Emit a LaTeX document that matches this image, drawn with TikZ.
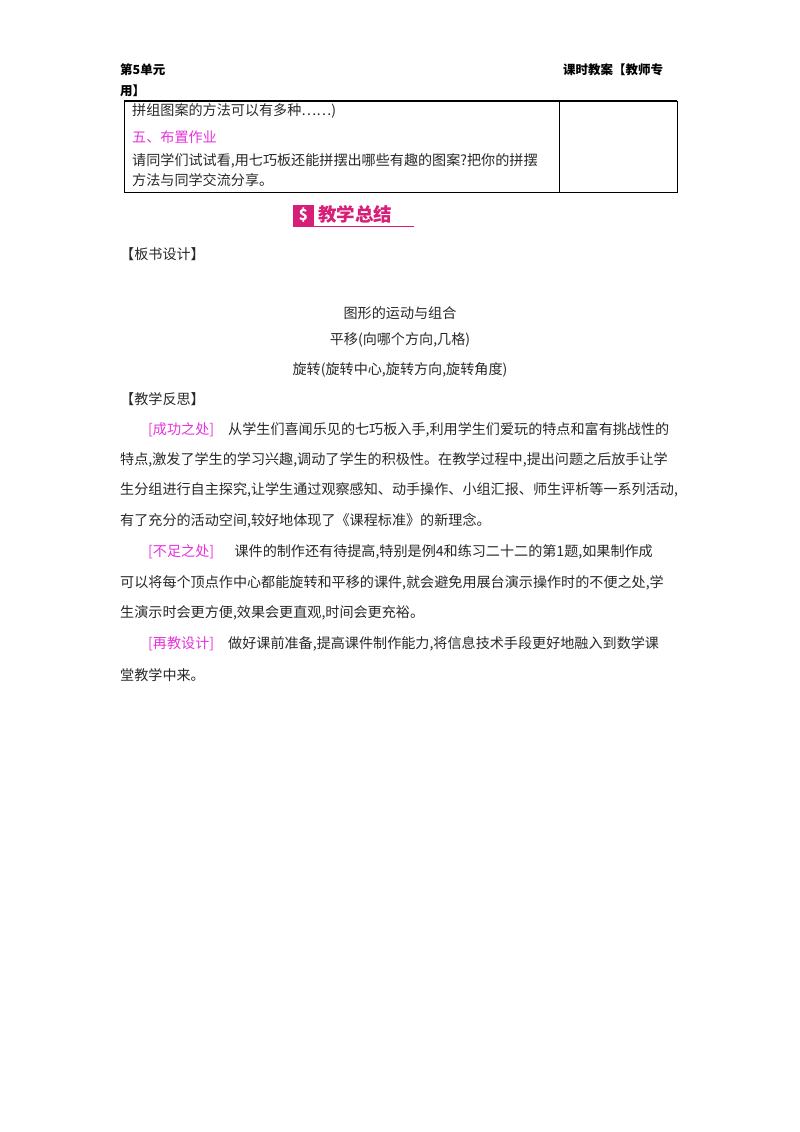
\documentclass[tikz,border=0pt]{standalone}
\usepackage{fontspec}
\setmainfont{Liberation Serif}
\newfontfamily\cjk{Noto Sans CJK SC}
\definecolor{mag}{RGB}{230,50,220}
\definecolor{txt}{RGB}{40,40,40}
\definecolor{ban}{RGB}{215,30,120}
\begin{document}
\begin{tikzpicture}[x=1pt,y=-1pt,
 t/.style={anchor=west,inner sep=0,font=\cjk\fontsize{14.1}{14}\selectfont,text=txt},
 c/.style={anchor=center,inner sep=0,font=\cjk\fontsize{14.1}{14}\selectfont,text=txt},
 h/.style={anchor=west,inner sep=0,font=\cjk\bfseries\fontsize{12.5}{12}\selectfont,text=black}]
\useasboundingbox (0,0) rectangle (800,1132);
\node[h] (h1) at (120,70) {第5单元};
\node[h] (h2) at (563,70) {课时教案【教师专};
\node[h] (h3) at (120,91) {用】};
\draw[line width=1.6pt] (124,101) -- (677,101);
\draw[line width=0.8pt] (124,101) rectangle (677,192) (559,101) -- (559,192);
\node[t] (a1) at (132,111) {拼组图案的方法可以有多种……)};
\node[t,text=mag] (a2) at (132,137) {五、布置作业};
\node[t] (a3) at (132,161) {请同学们试试看,用七巧板还能拼摆出哪些有趣的图案?把你的拼摆};
\node[t] (a4) at (132,180) {方法与同学交流分享。};
\fill[ban] (293,205) rectangle (314,226);
\node[text=white,font=\cjk\bfseries\fontsize{15}{15}\selectfont,inner sep=0] (ic) at (303.5,215.5) {\$};
\node[anchor=west,inner sep=0,text=ban,font=\cjk\bfseries\fontsize{18.5}{18}\selectfont] (bt) at (318,214) {教学总结};
\draw[ban,line width=1pt] (293,226) -- (414,226);
\node[t] (b1) at (120,254) {【板书设计】};
\node[c] (b2) at (400,313) {图形的运动与组合};
\node[c] (b3) at (400,340) {平移(向哪个方向,几格)};
\node[c] (b4) at (400,370) {旋转(旋转中心,旋转方向,旋转角度)};
\node[t] (b5) at (120,399) {【教学反思】};
\node[t] (p1) at (148,430) {\textcolor{mag}{[成功之处]}\quad 从学生们喜闻乐见的七巧板入手,利用学生们爱玩的特点和富有挑战性的};
\node[t] (p2) at (120,460) {特点,激发了学生的学习兴趣,调动了学生的积极性。在教学过程中,提出问题之后放手让学};
\node[t] (p3) at (120,490) {生分组进行自主探究,让学生通过观察感知、动手操作、小组汇报、师生评析等一系列活动,};
\node[t] (p4) at (120,521) {有了充分的活动空间,较好地体现了《课程标准》的新理念。};
\node[t] (p5) at (148,552) {\textcolor{mag}{[不足之处]}\quad\ \ 课件的制作还有待提高,特别是例4和练习二十二的第1题,如果制作成};
\node[t] (p6) at (120,583) {可以将每个顶点作中心都能旋转和平移的课件,就会避免用展台演示操作时的不便之处,学};
\node[t] (p7) at (120,613) {生演示时会更方便,效果会更直观,时间会更充裕。};
\node[t] (p8) at (148,644) {\textcolor{mag}{[再教设计]}\quad 做好课前准备,提高课件制作能力,将信息技术手段更好地融入到数学课};
\node[t] (p9) at (120,675) {堂教学中来。};
\end{tikzpicture}
\end{document}
